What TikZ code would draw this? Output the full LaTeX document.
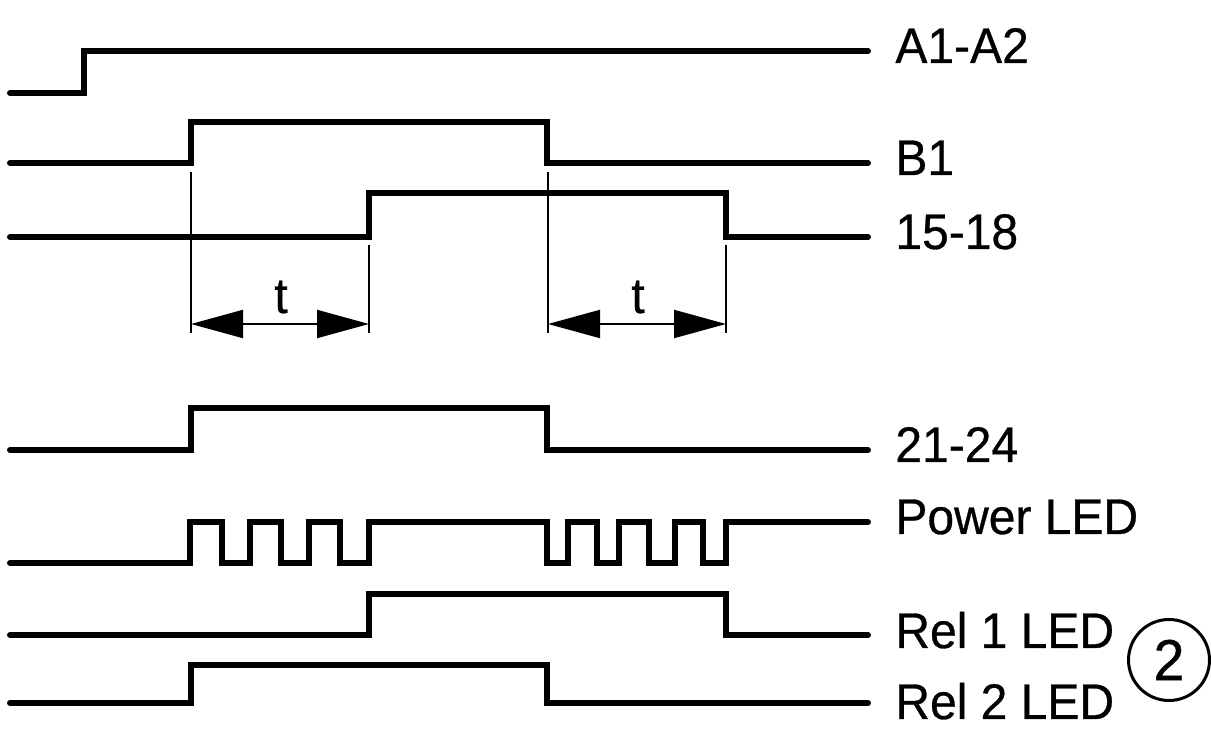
\documentclass[tikz,border=0pt]{standalone}
\usepackage{fontspec}
\setmainfont[FakeBold=0.6,FakeStretch=0.96]{Liberation Sans}
\usetikzlibrary{arrows.meta}
\tikzset{
  wave/.style={line width=3pt, line cap=round, line join=miter},
  guide/.style={line width=1pt},
  dim/.style={line width=1pt, {Triangle[length=26pt,width=14pt]}-{Triangle[length=26pt,width=14pt]}, shorten <=0pt, shorten >=0pt},
  lbl/.style={anchor=base west, inner sep=0pt, font=\fontsize{25pt}{25pt}\selectfont},
  tlbl/.style={anchor=base, inner sep=0pt, font=\fontsize{25pt}{25pt}\selectfont}
}
\begin{document}
\begin{tikzpicture}[x=0.5pt,y=-0.5pt]
\useasboundingbox (0,0) rectangle (1211,742);
% labels
\node[lbl] (la) at (895,63) {A1-A2};
\node[lbl] (lb) at (895,175) {B1};
\node[lbl] (lc) at (895,249) {15-18};
\node[lbl] (ld) at (895,462) {21-24};
\node[lbl] (le) at (895,534) {Power LED};
\node[lbl] (lf) at (895,648) {Rel 1 LED};
\node[lbl] (lg) at (895,719) {Rel 2 LED};
\node[draw, circle, line width=1.5pt, minimum size=40.5pt, inner sep=0pt, font=\fontsize{29pt}{29pt}\selectfont] (two) at (1169,660) {2};
% waveform ends
\coordinate (ea) at (868,51);
\coordinate (eb) at (868,163);
\coordinate (ec) at (868,237);
\coordinate (ed) at (868,450);
\coordinate (ee) at (868,522);
\coordinate (ef) at (868,635);
\coordinate (eg) at (868,703);
% waveforms
\draw[wave] (10,93) -- (84,93) -- (84,51) -- (ea);
\draw[wave] (10,163) -- (191,163) -- (191,122) -- (547,122) -- (547,163) -- (eb);
\draw[wave] (10,237) -- (369,237) -- (369,193) -- (726,193) -- (726,237) -- (ec);
\draw[wave] (10,450) -- (191,450) -- (191,408) -- (547,408) -- (547,450) -- (ed);
\draw[wave] (10,563) -- (190,563) -- (190,522) -- (222,522) -- (222,563) -- (250,563) -- (250,522)
  -- (281,522) -- (281,563) -- (309,563) -- (309,522) -- (340,522) -- (340,563) -- (369,563)
  -- (369,522) -- (547,522) -- (547,563) -- (568,563) -- (568,522) -- (597,522) -- (597,563)
  -- (619,563) -- (619,522) -- (649,522) -- (649,563) -- (675,563) -- (675,522) -- (703,522)
  -- (703,563) -- (726,563) -- (726,522) -- (ee);
\draw[wave] (10,635) -- (369,635) -- (369,594) -- (726,594) -- (726,635) -- (ef);
\draw[wave] (10,703) -- (191,703) -- (191,665) -- (547,665) -- (547,703) -- (eg);
% guide lines
\coordinate (g1t) at (191,172); \coordinate (g1b) at (191,333);
\coordinate (g2t) at (369,245); \coordinate (g2b) at (369,333);
\coordinate (g3t) at (548,172); \coordinate (g3b) at (548,333);
\coordinate (g4t) at (726,245); \coordinate (g4b) at (726,333);
\draw[guide] (g1t) -- (g1b);
\draw[guide] (g2t) -- (g2b);
\draw[guide] (g3t) -- (g3b);
\draw[guide] (g4t) -- (g4b);
% dimension arrows
\coordinate (a1l) at (191,324); \coordinate (a1r) at (369,324);
\coordinate (a2l) at (548,324); \coordinate (a2r) at (726,324);
\draw[dim] (a1l) -- (a1r);
\draw[dim] (a2l) -- (a2r);
\node[tlbl] (t1) at (281,313) {t};
\node[tlbl] (t2) at (638,313) {t};
\end{tikzpicture}
\end{document}
